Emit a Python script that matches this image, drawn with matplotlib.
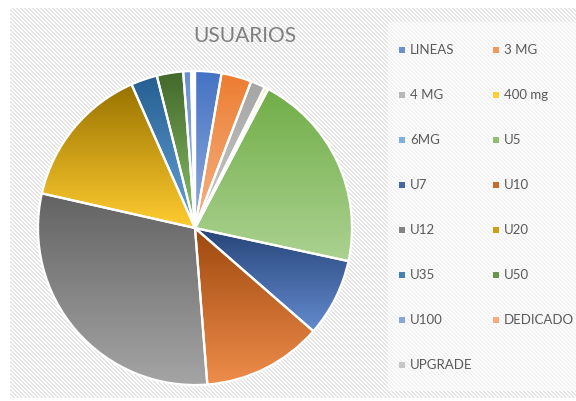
import numpy as np
import matplotlib
matplotlib.use("Agg")
import matplotlib.pyplot as plt
import matplotlib.colors as mcolors
import colorsys
from matplotlib.patches import Wedge, Rectangle

labels = ["LINEAS", "3 MG", "4 MG", "400 mg", "6MG", "U5", "U7", "U10",
          "U12", "U20", "U35", "U50", "U100", "DEDICADO", "UPGRADE"]
values = [2.7, 3.1, 1.5, 0.3, 0.1, 20.6, 8.0, 12.3, 29.7, 14.8, 2.7, 2.7, 0.8, 0.2, 0.2]
base_colors = ["#4472C4", "#ED7D31", "#A5A5A5", "#FFC000", "#5B9BD5", "#70AD47",
               "#264478", "#9E480E", "#636363", "#997300", "#255E91", "#43682B",
               "#698ED0", "#F1975A", "#B7B7B7"]

W, H = 576, 401
fig = plt.figure(figsize=(W / 100, H / 100), dpi=100)
fig.patch.set_facecolor("white")

# striped chart background
yy, xx = np.mgrid[0:H, 0:W]
bg = np.ones((H, W, 3))
stripe = ((xx - yy) % 4) < 1.3
bg[stripe] = mcolors.to_rgb("#e4e4e4")
inside = (xx >= 10) & (yy >= 8) & (yy <= 397)
bg[~inside] = 1.0
# legend panel is lighter
leg = (xx >= 388) & (yy >= 22) & (yy <= 390)
bg[leg] = bg[leg] * 0.5 + 0.5
fig.figimage(bg, xo=0, yo=0, origin="upper", zorder=-5)


def lighter(c, amt=0.4):
    r, g, b = mcolors.to_rgb(c)
    h, l, s = colorsys.rgb_to_hls(r, g, b)
    l = l + (1 - l) * amt
    return colorsys.hls_to_rgb(h, l, s)


# pie
cx, cy, R = 195, 228, 157
ax = fig.add_axes([(cx - 165) / W, (H - cy - 165) / H, 330 / W, 330 / H], zorder=2)
ax.axis("off")
ax.patch.set_alpha(0)

vals = np.array(values, dtype=float)
angles = vals / vals.sum() * 360
theta = 90.0
for i, a in enumerate(angles):
    t1, t2 = theta - a, theta
    theta = t1
    w = Wedge((0, 0), R, t1, t2, facecolor="none", edgecolor="none")
    ax.add_patch(w)
    ext = w.get_path().get_extents()
    top = np.array(mcolors.to_rgb(base_colors[i]))
    bot = np.array(lighter(base_colors[i], 0.42))
    f = np.linspace(0, 1, 200)[:, None]
    grad = (top * (1 - f) + bot * f)[:, None, :]
    im = ax.imshow(grad, extent=(ext.x0, ext.x1, ext.y0, ext.y1), origin="upper",
                   aspect="auto", interpolation="bilinear", zorder=2)
    im.set_clip_path(w)
    ax.add_patch(Wedge((0, 0), R, t1, t2, facecolor="none", edgecolor="white",
                       linewidth=1.6, zorder=3))
ax.set_xlim(-165, 165)
ax.set_ylim(-165, 165)

fig.text(245 / W, 1 - 36.5 / H, "USUARIOS", fontsize=15, color="#7f7f7f",
         family="Lato", ha="center", va="center")

# legend, filled row by row
for i, name in enumerate(labels):
    row, col = i // 2, i % 2
    y = 50 + row * 45
    mx = 399 if col == 0 else 493
    c = 0.5 * (np.array(mcolors.to_rgb(base_colors[i])) + np.array(lighter(base_colors[i], 0.42)))
    fig.patches.append(Rectangle((mx / W, 1 - (y + 3) / H), 6 / W, 6 / H,
                                 transform=fig.transFigure, facecolor=c,
                                 edgecolor="none", zorder=5))
    fig.text((mx + 11) / W, 1 - y / H, name, fontsize=9.5, color="#595959",
             family="Lato", ha="left", va="center")

fig.savefig("out.png", dpi=100)
